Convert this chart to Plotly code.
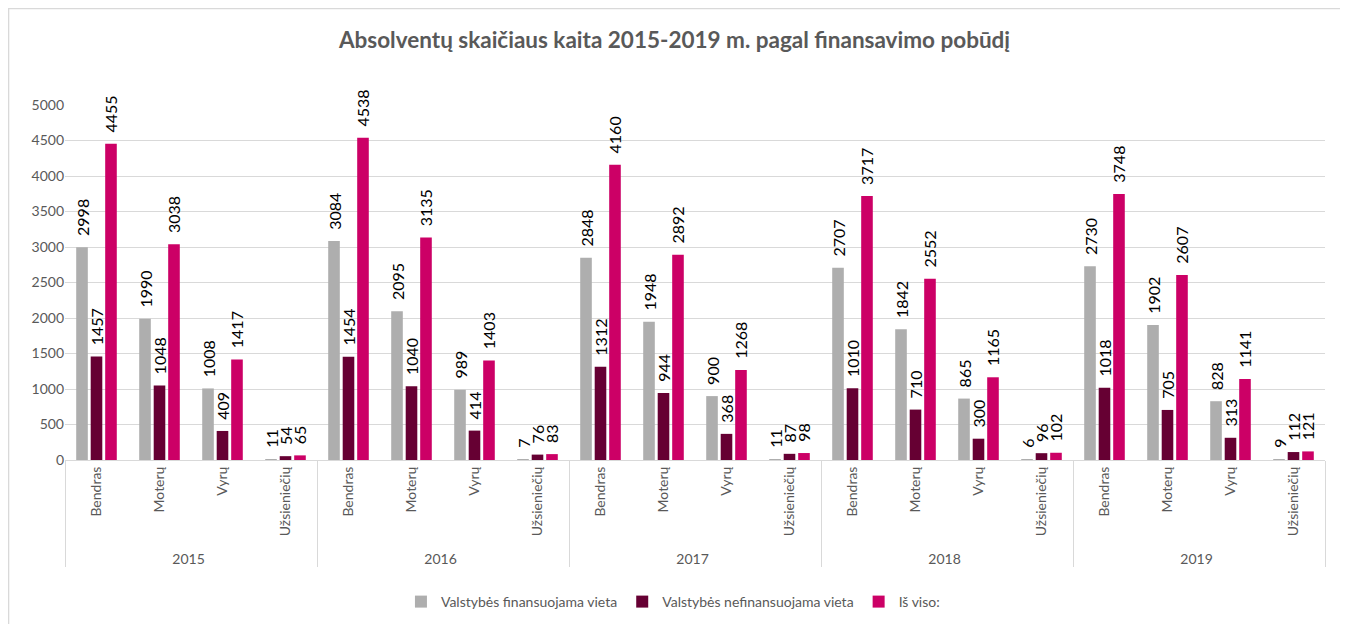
import plotly.graph_objects as go

years = ["2015", "2016", "2017", "2018", "2019"]
groups = ["Bendras", "Moterų", "Vyrų", "Užsieniečių"]

funded = [2998, 1990, 1008, 11, 3084, 2095, 989, 7, 2848, 1948, 900, 11,
          2707, 1842, 865, 6, 2730, 1902, 828, 9]
unfunded = [1457, 1048, 409, 54, 1454, 1040, 414, 76, 1312, 944, 368, 87,
            1010, 710, 300, 96, 1018, 705, 313, 112]
total = [4455, 3038, 1417, 65, 4538, 3135, 1403, 83, 4160, 2892, 1268, 98,
         3717, 2552, 1165, 102, 3748, 2607, 1141, 121]

series_names = ["Valstybės finansuojama vieta", "Valstybės nefinansuojama vieta", "Iš viso:"]
colors = ["#AEAEAE", "#660033", "#CC0066"]

x_outer = [y for y in years for _ in groups]
x_inner = [g for _ in years for g in groups]

fig = go.Figure()
for name, vals, col in zip(series_names, [funded, unfunded, total], colors):
    fig.add_trace(go.Bar(
        x=[x_outer, x_inner], y=vals, name=name,
        marker=dict(color=col, line=dict(width=0)),
        text=["\u00a0\u00a0" + str(v) for v in vals], textposition="outside", textangle=-90,
        textfont=dict(family="Lato", size=16, color="#000000"),
        constraintext="none", cliponaxis=False,
    ))

# the page body adds an 8px offset, so the figure is sized 8px smaller
fig.update_layout(
    width=1340, height=616,
    paper_bgcolor="white", plot_bgcolor="white",
    font=dict(family="Lato", color="#595959"),
    title=dict(text="<b>Absolventų skaičiaus kaita 2015-2019 m. pagal finansavimo pobūdį</b>",
               x=0.4974, xanchor="center", y=1 - 32 / 616, yanchor="middle",
               font=dict(size=22.5, color="#595959", family="Lato")),
    margin=dict(l=57, r=23, t=97, b=164, autoexpand=False),
    barmode="group", bargap=0.31, bargroupgap=0.2,
    legend=dict(orientation="h", x=0.4825, xanchor="center", y=-0.4, yanchor="middle",
                font=dict(size=14, color="#595959"), itemwidth=30, tracegroupgap=0),
    showlegend=True,
)
fig.update_yaxes(range=[0, 5000], dtick=500, showgrid=True, gridcolor="#D9D9D9",
                 gridwidth=1, zeroline=False, showline=False, automargin=False,
                 tickfont=dict(size=14, color="#595959"), ticks="", ticklen=0)
fig.update_xaxes(type="multicategory", tickangle=-90, showline=True, linecolor="#D9D9D9",
                 linewidth=1, showdividers=True, dividercolor="#D9D9D9", dividerwidth=1,
                 automargin=False,
                 tickfont=dict(size=14, color="#595959"), ticks="")

fig.add_shape(type="rect", xref="paper", yref="paper",
              x0=-0.0448, x1=1.0143, y0=-0.47, y1=1.272,
              line=dict(color="#D9D9D9", width=1.5), fillcolor="rgba(0,0,0,0)", layer="below")

fig.write_html("out.html")
